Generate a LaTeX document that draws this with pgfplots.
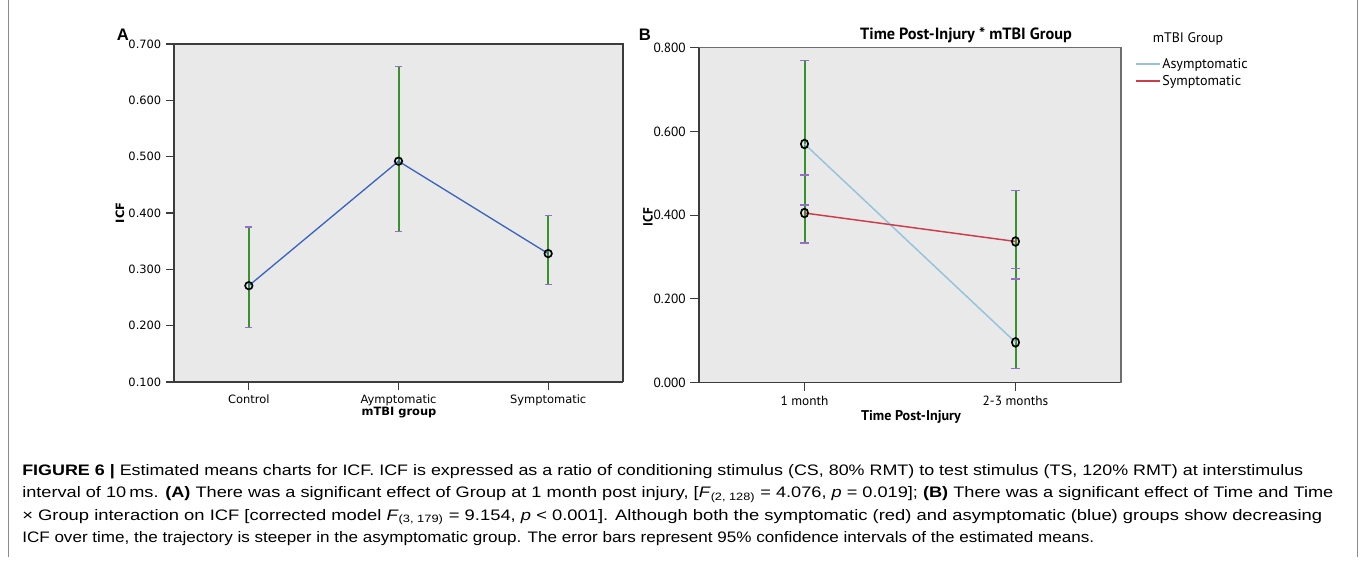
\documentclass[border=0pt]{standalone}
\usepackage{fontspec}
\setmainfont{Liberation Sans}
\newfontfamily\fa{DejaVu Sans}
\newfontfamily\fb{PT Sans}
\usepackage{graphicx}
\usepackage{pgfplots}
\pgfplotsset{compat=1.18}

\definecolor{cBg}{RGB}{233,233,233}
\definecolor{cFrame}{RGB}{60,60,60}
\definecolor{cFrameB}{RGB}{110,110,110}
\definecolor{cGreen}{RGB}{55,145,45}
\definecolor{cPurple}{RGB}{150,110,200}
\definecolor{cLineA}{RGB}{60,100,190}
\definecolor{cAsym}{RGB}{150,195,220}
\definecolor{cSym}{RGB}{205,60,75}
\definecolor{cBox}{RGB}{140,140,140}

\begin{document}
\begin{tikzpicture}[x=0.75pt,y=-0.75pt]
\path[use as bounding box] (0,0) rectangle (1360,565);
\draw[cBox, line width=0.75pt] (8,0) -- (8,557);
\draw[cBox, line width=0.75pt] (1357,0) -- (1357,557);

% ---------------- Panel A ----------------
\begin{axis}[
  at={(130.5pt,-286.5pt)}, anchor=south west,
  scale only axis, width=336.75pt, height=253.5pt,
  xmin=-0.5, xmax=2.5, ymin=0.1, ymax=0.7,
  xtick={0,1,2}, xticklabels={Control,Aymptomatic,Symptomatic},
  ytick={0.1,0.2,0.3,0.4,0.5,0.6,0.7},
  yticklabel style={/pgf/number format/.cd, fixed, fixed zerofill, precision=3, assume math mode=true},
  ticklabel style={font=\fa\fontsize{8.6}{10}\selectfont},
  tick align=outside, xtick pos=bottom, ytick pos=left,
  major tick length=6pt,
  tick style={draw=cFrame, line width=0.8pt},
  axis background/.style={fill=cBg},
  axis line style={draw=none},
  clip=false,
]
% 95% CI bars (lower, upper)
\addplot[draw=cGreen, line width=1.5pt, forget plot] coordinates {(0,0.197) (0,0.375)};
\addplot[draw=cGreen, line width=1.5pt, forget plot] coordinates {(1,0.367) (1,0.660)};
\addplot[draw=cGreen, line width=1.5pt, forget plot] coordinates {(2,0.273) (2,0.395)};
\addplot[only marks, mark=-, mark size=2.7pt, mark options={draw=cPurple, line width=1pt}, forget plot]
  coordinates {(0,0.197) (0,0.375) (1,0.367) (1,0.660) (2,0.273) (2,0.395)};
% estimated means
\addplot[draw=cLineA, line width=1pt, mark=none, forget plot] coordinates {(0,0.271) (1,0.492) (2,0.328)};
\addplot[only marks, mark=o, mark size=2.8pt, mark options={draw=black, line width=1.25pt}, forget plot]
  coordinates {(0,0.271) (1,0.492) (2,0.328)};
\draw[cFrame, line width=1.4pt] (rel axis cs:0,1) -- (rel axis cs:0,0) -- (rel axis cs:1,0);
\draw[cFrame, line width=1.1pt] (rel axis cs:0,1) -- (rel axis cs:1,1) -- (rel axis cs:1,0);
\end{axis}

% ---------------- Panel B ----------------
\begin{axis}[
  at={(524.25pt,-286.875pt)}, anchor=south west,
  scale only axis, width=316.5pt, height=251.1pt,
  xmin=-0.5, xmax=1.5, ymin=0, ymax=0.8,
  xtick={0,1}, xticklabels={1 month,2-3 months},
  ytick={0,0.2,0.4,0.6,0.8},
  yticklabel style={/pgf/number format/.cd, fixed, fixed zerofill, precision=3, assume math mode=true},
  ticklabel style={font=\fb\fontsize{10}{12}\selectfont},
  tick align=outside, xtick pos=bottom, ytick pos=left,
  major tick length=6.5pt,
  tick style={draw=cFrame, line width=0.8pt},
  axis background/.style={fill=cBg},
  axis line style={draw=none},
  clip=false,
  legend style={at={(axis description cs:1.033,0.972)}, anchor=north west,
    draw=none, fill=none, inner sep=0pt, row sep=2.6pt,
    font=\fb\fontsize{10.6}{12}\selectfont,
    nodes={inner xsep=1pt, inner ysep=0.6pt}},
  legend cell align=left,
  legend image code/.code={\draw[#1] (0pt,0pt) -- (18pt,0pt);},
]
\addlegendimage{draw=cAsym, line width=1.3pt}
\addlegendentry{Asymptomatic}
\addlegendimage{draw=cSym, line width=1.3pt}
\addlegendentry{Symptomatic}
% 95% CI bars: asymptomatic and symptomatic overlap on one line per time point
\addplot[draw=cGreen, line width=1.5pt, forget plot] coordinates {(0,0.333) (0,0.769)};
\addplot[draw=cGreen, line width=1.5pt, forget plot] coordinates {(1,0.033) (1,0.459)};
% CI ends: asymptomatic (0.769, 0.424 | 0.273, 0.033), symptomatic (0.496, 0.333 | 0.459, 0.247)
\addplot[only marks, mark=-, mark size=3.1pt, mark options={draw=cPurple, line width=1pt}, forget plot]
  coordinates {(0,0.769) (0,0.424) (1,0.273) (1,0.033) (0,0.496) (0,0.333) (1,0.459) (1,0.247)};
% estimated means
\addplot[draw=cAsym, line width=1.1pt, mark=none, forget plot] coordinates {(0,0.570) (1,0.096)};
\addplot[draw=cSym, line width=1.1pt, mark=none, forget plot] coordinates {(0,0.405) (1,0.337)};
\addplot[only marks, mark=o, mark size=3.3pt, forget plot, mark options={draw=black, line width=1.25pt, xscale=0.82}]
  coordinates {(0,0.570) (1,0.096) (0,0.405) (1,0.337)};
\draw[cFrame, line width=1.4pt] (rel axis cs:0,1) -- (rel axis cs:0,0) -- (rel axis cs:1,0);
\draw[cFrameB, line width=1.1pt] (rel axis cs:0,1) -- (rel axis cs:1,1) -- (rel axis cs:1,0);
\end{axis}

% ---------------- Labels ----------------
\node[font=\bfseries\fontsize{12.5}{13}\selectfont] at (123,35) {A};
\node[font=\bfseries\fontsize{12.5}{13}\selectfont] at (645,35) {B};
\node[rotate=90, font=\fa\bfseries\fontsize{8.6}{10}\selectfont] at (120,213) {ICF};
\node[font=\fa\bfseries\fontsize{8.6}{10}\selectfont] at (399,413) {mTBI group};
\node[rotate=90, font=\fb\bfseries\fontsize{10}{12}\selectfont] at (648,217) {ICF};
\node[font=\fb\bfseries\fontsize{10.6}{12}\selectfont] at (911,417) {Time Post-Injury};
\node[font=\fb\bfseries\fontsize{12.2}{14}\selectfont] at (966,35) {Time Post-Injury * mTBI Group};
\node[font=\fb\fontsize{10.4}{12}\selectfont] at (1188,39) {mTBI Group};

% ---------------- Caption ----------------
\begin{scope}[every node/.style={anchor=base west, inner sep=0pt, font=\fontsize{11.4}{13}\selectfont}]
\node at (22,475) {\resizebox{960.75pt}{\height}{\textbf{FIGURE 6 |} Estimated means charts for ICF. ICF is expressed as a ratio of conditioning stimulus (CS, 80\% RMT) to test stimulus (TS, 120\% RMT) at interstimulus}};
\node at (22,497.5) {\resizebox{983.25pt}{\height}{interval of 10\,ms. \textbf{(A)} There was a significant effect of Group at 1 month post injury, [\textit{F}\textsubscript{(2, 128)} = 4.076, \textit{p} = 0.019]; \textbf{(B)} There was a significant effect of Time and Time}};
\node at (22,520) {\resizebox{975pt}{\height}{× Group interaction on ICF [corrected model \textit{F}\textsubscript{(3, 179)} = 9.154, \textit{p} < 0.001]. Although both the symptomatic (red) and asymptomatic (blue) groups show decreasing}};
\node at (22,542.5) {\resizebox{804pt}{\height}{ICF over time, the trajectory is steeper in the asymptomatic group. The error bars represent 95\% confidence intervals of the estimated means.}};
\end{scope}
\end{tikzpicture}
\end{document}
